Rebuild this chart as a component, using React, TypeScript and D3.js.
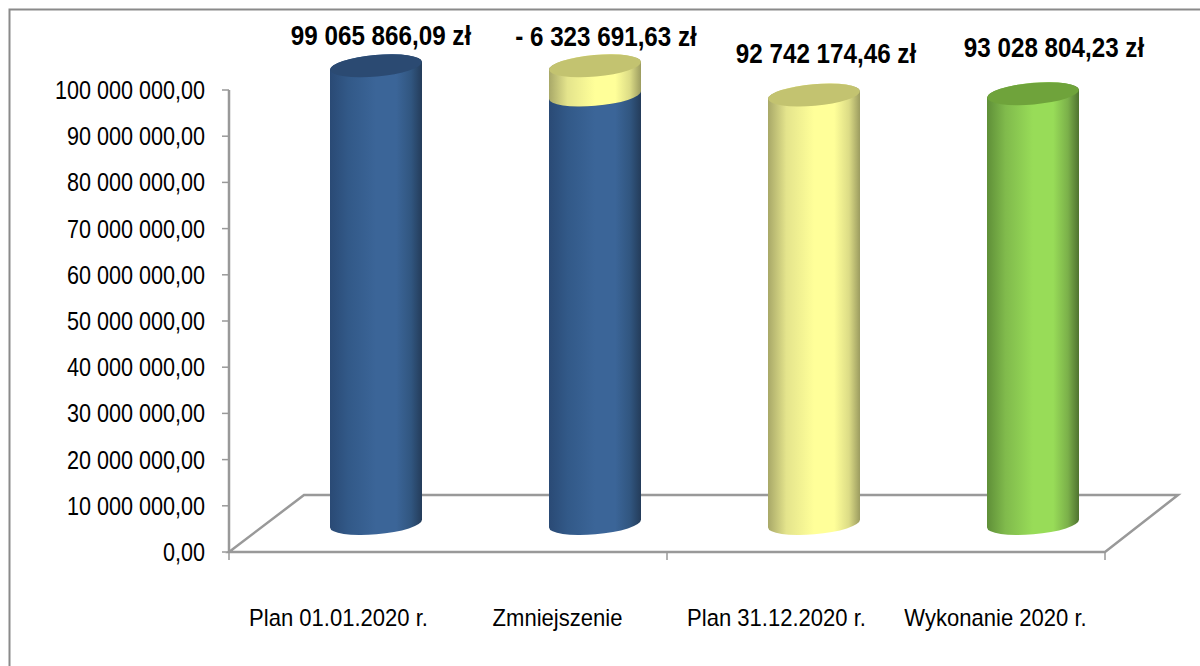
import React from "react";
import * as d3 from "d3";

const categories = ["Plan 01.01.2020 r.", "Zmniejszenie", "Plan 31.12.2020 r.", "Wykonanie 2020 r."];
const baseValues = [99065866.09, 92742174.46, 92742174.46, 93028804.23];
const topValues = [0, 6323691.63, 0, 0];
const valueLabels = ["99 065 866,09 zł", "- 6 323 691,63 zł", "92 742 174,46 zł", "93 028 804,23 zł"];
const tickValues = [0, 10, 20, 30, 40, 50, 60, 70, 80, 90, 100].map((d) => d * 1000000);
const tickLabels = ["0,00", "10 000 000,00", "20 000 000,00", "30 000 000,00", "40 000 000,00", "50 000 000,00", "60 000 000,00", "70 000 000,00", "80 000 000,00", "90 000 000,00", "100 000 000,00"];

const labelPos = [[381, 45], [606, 46], [826, 63], [1054, 57]];
const gradOffsets = [0, 0.2, 0.5, 0.72, 0.88, 1];
const palettes = [
  { id: "b", ramp: ["#2a4a75", "#325988", "#3b6598", "#3b6598", "#315680", "#243c5a"], top: "#2b4a72" },
  { id: "y", ramp: ["#a8a868", "#e4e48c", "#ffff99", "#ffff99", "#dcdc86", "#9c9c60"], top: "#c3c370" },
  { id: "g", ramp: ["#5f8f38", "#80ba4c", "#98dc58", "#98dc58", "#7bb04a", "#4f7330"], top: "#6fa33b" },
];
const firstPalette = [0, 0, 1, 2];

const y = d3.scaleLinear().domain([0, 100000000]).range([552, 90]);
const x = d3.scaleBand<string>().domain(categories).range([229, 1105]);
const depthX = 75, depthY = 57;
const halfW = 46, rx = 46, ry = 10.8, tilt = -5, lean = 3.9;

const cx = (i: number) => x(categories[i])! + x.bandwidth() / 2 + depthX / 2;
const py = (v: number) => y(v) - depthY / 2;

function body(c: number, v0: number, v1: number) {
  const y0 = py(v0), y1 = py(v1);
  return `M${c - halfW},${y1 + lean}L${c - halfW},${y0 + lean}A${rx},${ry} ${tilt} 0 0 ${c + halfW},${y0 - lean}L${c + halfW},${y1 - lean}A${rx},${ry} ${tilt} 0 0 ${c - halfW},${y1 + lean}Z`;
}

function Cyl({ c, v0, v1, p }: { c: number; v0: number; v1: number; p: typeof palettes[number] }) {
  return (
    <g>
      <path d={body(c, v0, v1)} fill={`url(#grad-${p.id})`} />
      <ellipse cx={c} cy={py(v1)} rx={rx} ry={ry} fill={p.top} transform={`rotate(${tilt} ${c} ${py(v1)})`} />
    </g>
  );
}

const sans = "'Liberation Sans', Arial, sans-serif";

function SText({ tx, ty, anchor, size, sx, weight, children }: any) {
  return (
    <text transform={`translate(${tx},${ty}) scale(${sx},1)`} textAnchor={anchor} fontFamily={sans} fontSize={size} fontWeight={weight} fill="#000">
      {children}
    </text>
  );
}

export default function App() {
  const axisStroke = "#999999";
  const x0 = 229, x1 = 1105, y0 = y(0);
  const floor = `M${x0},${y0}L${x0 + depthX},${y0 - depthY}L${x1 + 73},${y0 - depthY}L${x1},${y0}Z`;
  return (
    <svg width={1200} height={666} style={{ position: "absolute", left: 0, top: 0, display: "block" }}>
      <defs>
        {palettes.map((p) => (
          <linearGradient key={p.id} id={`grad-${p.id}`} x1="0" x2="1" y1="0" y2="0">
            {p.ramp.map((c, i) => (
              <stop key={i} offset={gradOffsets[i]} stopColor={c} />
            ))}
          </linearGradient>
        ))}
      </defs>
      <rect width={1200} height={666} fill="#fff" />
      <path d="M9.5,666V9.5H1200" fill="none" stroke="#8a8a8a" strokeWidth={2} />

      <path d={floor} fill="#fff" stroke={axisStroke} strokeWidth={2.5} strokeLinejoin="miter" />
      <line x1={x0} x2={x0} y1={y(100000000)} y2={y0} stroke={axisStroke} strokeWidth={2.5} />
      {tickValues.map((t, i) => (
        <g key={t}>
          <line x1={222} x2={x0} y1={y(t)} y2={y(t)} stroke={axisStroke} strokeWidth={1.5} />
          <SText tx={205} ty={y(t) + 9} anchor="end" size={26.5} sx={0.815}>{tickLabels[i]}</SText>
        </g>
      ))}
      {[x0, x(categories[2])!, x1].map((t) => (
        <line key={t} x1={t} x2={t} y1={y0} y2={y0 + 8} stroke={axisStroke} strokeWidth={1.5} />
      ))}

      {categories.map((cat, i) => {
        const p = palettes[firstPalette[i]];
        return (
          <g key={cat}>
            <Cyl c={cx(i)} v0={0} v1={baseValues[i]} p={p} />
            {topValues[i] > 0 && <Cyl c={cx(i)} v0={baseValues[i]} v1={baseValues[i] + topValues[i]} p={palettes[1]} />}
          </g>
        );
      })}

      {categories.map((cat) => (
        <SText key={cat} tx={x(cat)! + x.bandwidth() / 2} ty={625.5} anchor="middle" size={24.5} sx={0.9}>{cat}</SText>
      ))}
      {valueLabels.map((l, i) => (
        <SText key={l} tx={labelPos[i][0]} ty={labelPos[i][1]} anchor="middle" size={28} sx={0.865} weight="bold">{l}</SText>
      ))}
    </svg>
  );
}
